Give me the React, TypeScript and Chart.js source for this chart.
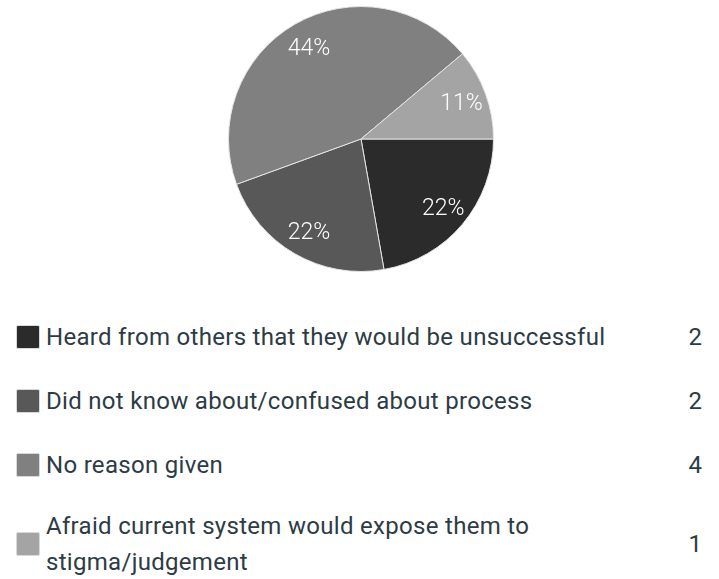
import React, { useEffect, useRef } from "react";
import { Chart, registerables } from "chart.js";

Chart.register(...registerables);

const categories = [
  "Heard from others that they would be unsuccessful",
  "Did not know about/confused about process",
  "No reason given",
  "Afraid current system would expose them to stigma/judgement",
];
const counts = [2, 2, 4, 1];
const colors = ["#2b2b2b", "#585858", "#808080", "#a4a4a4"];

const FONT = "Roboto, 'Open Sans', sans-serif";

const labelPlugin = {
  id: "pctLabels",
  afterDatasetsDraw(chart: any) {
    const ctx = chart.ctx;
    const meta = chart.getDatasetMeta(0);
    const total = counts.reduce((a, b) => a + b, 0);
    ctx.save();
    ctx.fillStyle = "#ffffff";
    ctx.font = `300 23px ${FONT}`;
    ctx.textAlign = "center";
    ctx.textBaseline = "middle";
    meta.data.forEach((arc: any, i: number) => {
      const p = arc.getProps(["startAngle", "endAngle", "outerRadius", "x", "y"], true);
      const mid = (p.startAngle + p.endAngle) / 2;
      const r = p.outerRadius * 0.8;
      const pct = Math.round((counts[i] / total) * 100) + "%";
      ctx.fillText(pct, p.x + Math.cos(mid) * r + 1, p.y + Math.sin(mid) * r + 2);
    });
    ctx.restore();
  },
};

export default function App() {
  const ref = useRef<HTMLCanvasElement>(null);
  useEffect(() => {
    if (!ref.current) return;
    const chart = new Chart(ref.current, {
      type: "pie",
      data: {
        labels: categories,
        datasets: [
          {
            data: counts,
            backgroundColor: colors,
            borderColor: "#e4e4e4",
            borderWidth: 1,
          },
        ],
      },
      options: {
        responsive: false,
        animation: false,
        rotation: 90,
        layout: { padding: 3 },
        plugins: { legend: { display: false }, tooltip: { enabled: false } },
      },
      plugins: [labelPlugin],
    });
    return () => chart.destroy();
  }, []);

  const rowTops = [318, 382, 446, 508];
  return (
    <div style={{ position: "absolute", left: 0, top: 0, width: 719, height: 579, background: "#fff", fontFamily: FONT }}>
      <div style={{ position: "absolute", left: 225, top: 3, width: 272, height: 272 }}>
        <canvas ref={ref} width={272} height={272} style={{ width: 272, height: 272 }} />
      </div>
      {categories.map((c, i) => (
        <div
          key={i}
          style={{
            position: "absolute",
            left: 16,
            top: rowTops[i],
            width: 686,
            height: i === 3 ? 72 : 38,
            display: "flex",
            alignItems: "center",
          }}
        >
          <div
            style={{
              width: 24,
              height: 24,
              background: colors[i],
              border: "1px solid #d8d8d8",
              borderRadius: 2,
              boxSizing: "border-box",
              flex: "none",
            }}
          />
          <div
            style={{
              marginLeft: 6,
              width: 590,
              fontSize: 24,
              letterSpacing: "0.3px",
              lineHeight: "36px",
              color: "#2d3b45",
            }}
          >
            {c}
          </div>
          <div style={{ flex: 1, textAlign: "right", fontSize: 24, color: "#2d3b45" }}>{counts[i]}</div>
        </div>
      ))}
    </div>
  );
}
